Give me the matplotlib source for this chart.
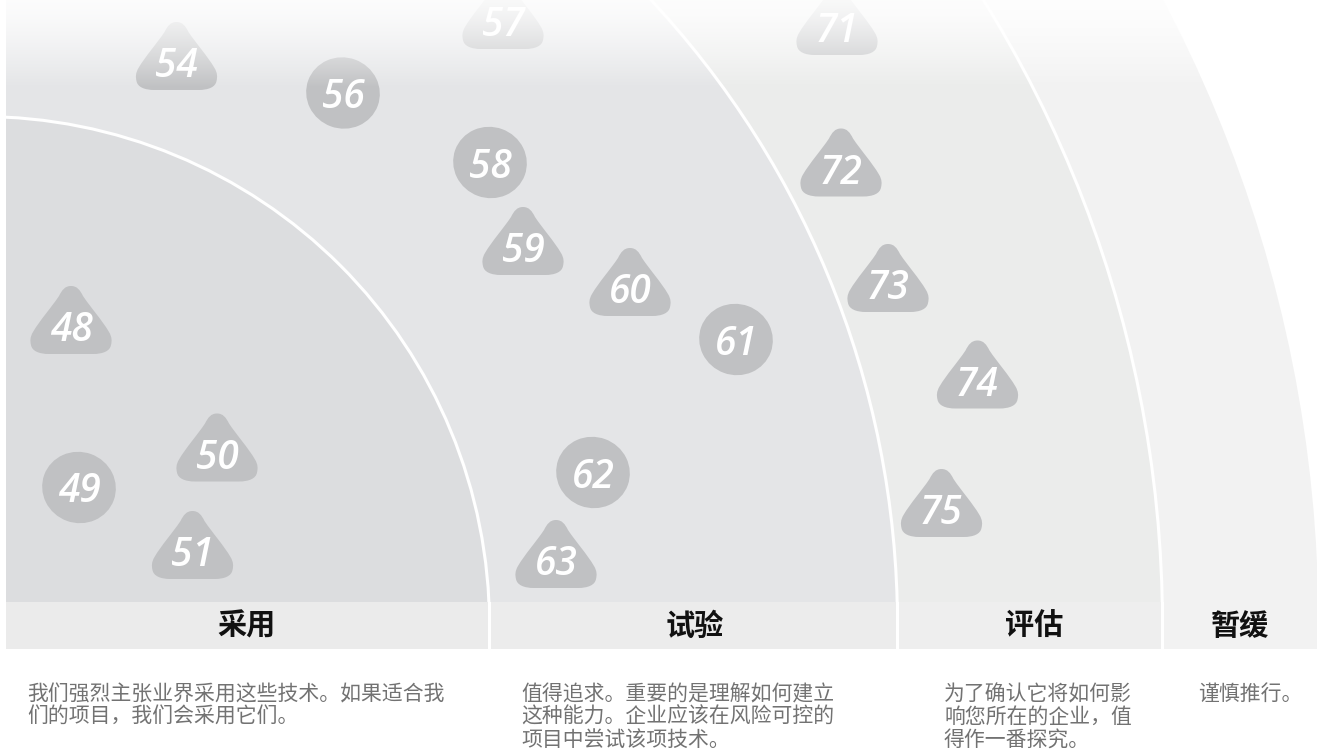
import numpy as np
import matplotlib.pyplot as plt
from matplotlib.patches import Wedge, Arc, Rectangle, Ellipse, PathPatch
from matplotlib.path import Path

plt.rcParams['font.family'] = ['Noto Sans CJK SC', 'DejaVu Sans']

# radar rings (origin = radar centre, units ~ pixels)
ring_names = ['采用', '试验', '评估', '暂缓']
ring_radii = [509, 917, 1182, 1338]
ring_colors = ['#dcdddf', '#e4e5e7', '#ebeceb', '#f2f2f2']
bar_colors = ['#ebebeb', '#ececec', '#eeeeee', '#f2f2f2']
ring_desc = [
    ['我们强烈主张业界采用这些技术。如果适合我', '们的项目，我们会采用它们。'],
    ['值得追求。重要的是理解如何建立', '这种能力。企业应该在风险可控的', '项目中尝试该项技术。'],
    ['为了确认它将如何影', '响您所在的企业，值', '得作一番探究。'],
    ['谨慎推行。'],
]
header_x = [265.5, 714.5, 1053.5, 1259.5]
desc_x = [46.5, 540.5, 963.5, 1217.5]

# blips: t = triangle (new/moved), c = circle
blip_ids = [48, 49, 50, 51, 54, 56, 57, 58, 59, 60, 61, 62, 63, 71, 72, 73, 74, 75]
blip_x = [90.5, 98.5, 236.5, 212, 196, 362.5, 522.5, 509.5, 542.5, 649.5,
          755.5, 612.5, 575.5, 856.5, 860.5, 907.5, 997, 961]
blip_y = [305.5, 138, 178, 80.5, 569.5, 532.5, 610.5, 463, 384.5, 343.5,
          286, 153, 71.5, 604.5, 463, 347.5, 251, 122.5]
blip_shape = ['t', 'c', 't', 't', 't', 'c', 't', 'c', 't', 't',
              'c', 'c', 't', 't', 't', 't', 't', 't']

X0, X1 = 19.5, 1336.5
Y0, Y1 = -127.5, 625.5
BAR_H = 23.5
LEFT = 25.5

fig = plt.figure(figsize=(13.17, 7.53), dpi=100)
ax = fig.add_axes([0, 0, 1, 1])
ax.axis('off')

clip = Rectangle((LEFT, BAR_H), 3000, 3000, transform=ax.transData)

for r, c in zip(ring_radii[::-1], ring_colors[::-1]):
    w = Wedge((0, 0), r, 0, 90, facecolor=c, edgecolor='none', zorder=1)
    ax.add_patch(w)
    w.set_clip_path(clip)

for r in ring_radii[:-1]:
    a = Arc((0, 0), 2 * r, 2 * r, theta1=0, theta2=90, color='white', lw=2.2, zorder=2)
    ax.add_patch(a)
    a.set_clip_path(clip)

# rounded "pear" triangle shape
C4 = Path.CURVE4
tri_verts = [
    (0, 34),
    (-6, 34), (-9, 30), (-12, 24),
    (-20, 12), (-31, 0), (-38, -12),
    (-41, -17), (-41, -21), (-40, -25),
    (-39, -31), (-32, -34), (-22, -34),
    (22, -34),
    (32, -34), (39, -31), (40, -25),
    (41, -21), (41, -17), (38, -12),
    (31, 0), (20, 12), (12, 24),
    (9, 30), (6, 34), (0, 34),
    (0, 34),
]
tri_codes = ([Path.MOVETO] + [C4] * 12 + [Path.LINETO] + [C4] * 12 + [Path.CLOSEPOLY])
tri = np.array(tri_verts, dtype=float)

for bid, bx, by, sh in zip(blip_ids, blip_x, blip_y, blip_shape):
    if sh == 't':
        p = PathPatch(Path(tri + [bx, by], tri_codes), facecolor='#c0c1c3',
                      edgecolor='none', zorder=3)
        ty = by - 21
    else:
        p = Ellipse((bx, by), 74, 71, angle=-20, facecolor='#c0c1c3',
                    edgecolor='none', zorder=3)
        ty = by - 15
    ax.add_patch(p)
    ax.text(bx, ty, str(bid), family='Open Sans', style='italic', fontsize=28,
            fontweight='semibold', color='white', ha='center', va='baseline', zorder=4)

# fade to white at the top
t = np.linspace(0, 1, 200)
alpha = 0.9 * (1 - t ** 1.3)
grad = np.ones((200, 1, 4))
grad[:, 0, 3] = alpha
ax.imshow(grad, extent=[X0, X1, Y1 - 88, Y1], aspect='auto', origin='upper',
          interpolation='bilinear', zorder=5)

# label bar
edges = [LEFT] + ring_radii[:-1] + [X1 + 5]
for i in range(4):
    xa = edges[i] + (1.5 if i > 0 else 0)
    xb = edges[i + 1] - (1.5 if i < 3 else 0)
    ax.add_patch(Rectangle((xa, -BAR_H), xb - xa, 2 * BAR_H, facecolor=bar_colors[i],
                           edgecolor='none', zorder=6))
    ax.text(header_x[i], 0, ring_names[i], fontsize=21, fontweight='bold',
            color='#111111', ha='center', va='center', zorder=7)
    for j, line in enumerate(ring_desc[i]):
        ax.text(desc_x[i], -68.5 - 23 * j, line, fontsize=15, color='#727272',
                ha='left', va='center', zorder=7)

ax.set_xlim(X0, X1)
ax.set_ylim(Y0, Y1)

fig.savefig('out.png', dpi=100, facecolor='white')
